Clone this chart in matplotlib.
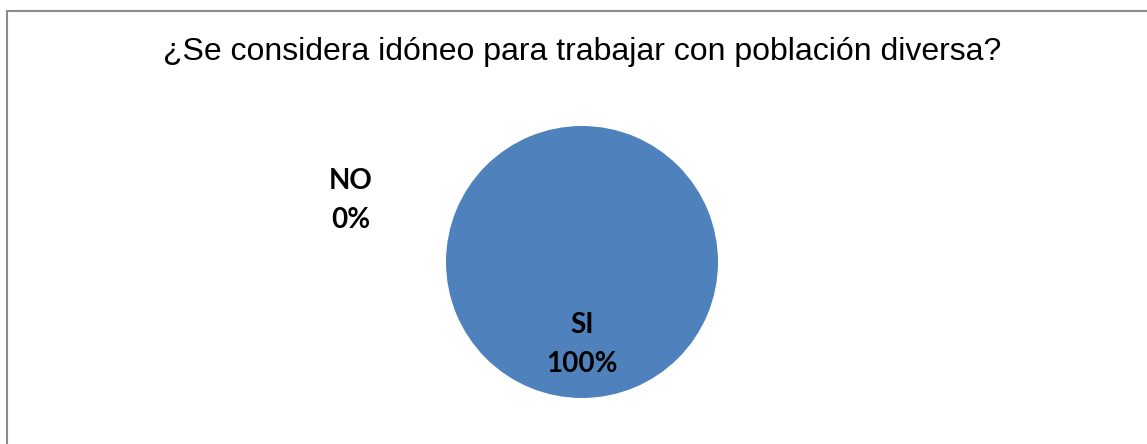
import matplotlib.pyplot as plt
from matplotlib.patches import Rectangle

# data
title = "¿Se considera idóneo para trabajar con población diversa?"
categories = ["SI", "NO"]
percent = [100, 0]
colors = ["#4F81BD", "#C0504D"]

W, H = 1147, 444
fig = plt.figure(figsize=(W / 100, H / 100), dpi=100)

# chart frame (right and bottom edges fall outside the image)
fig.patches.append(Rectangle((6.5 / W, -0.1), 1.2, 1 - 11.5 / H + 0.1,
                             transform=fig.transFigure, fill=False,
                             edgecolor="#8c8c8c", linewidth=1.5))

fig.text(582 / W, 1 - 52 / H, title, ha="center", va="center",
         fontsize=23, family="Liberation Sans")

cx, cy, r = 582, 262, 136
ax = fig.add_axes([(cx - r) / W, 1 - (cy + r) / H, 2 * r / W, 2 * r / H])
wedges, _ = ax.pie(percent, colors=colors, startangle=90, counterclock=False,
                   wedgeprops=dict(linewidth=0))
ax.set_xlim(-1, 1)
ax.set_ylim(-1, 1)
ax.set_aspect("equal")

# label positions, in units of the pie radius
label_pos = {"SI": (0.0, -0.61), "NO": (-1.70, 0.45)}
for name, p in zip(categories, percent):
    x, y = label_pos[name]
    ax.text(x, y, f"{name}\n{p}%", ha="center", va="center",
            fontsize=20, fontweight="bold", family="Lato",
            linespacing=1.62)

fig.savefig("out.png", dpi=100)
